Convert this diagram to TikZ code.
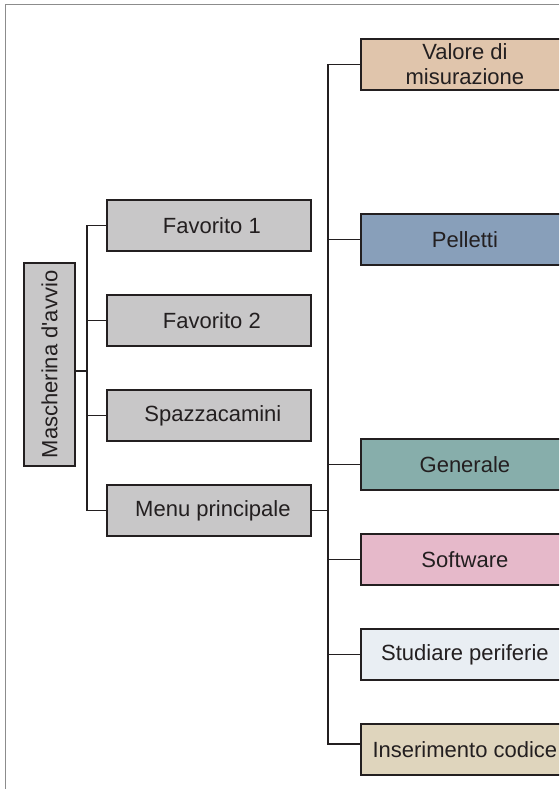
\documentclass[tikz,border=0pt]{standalone}
\usepackage{fontspec}
\setmainfont{Liberation Sans}
\definecolor{linec}{HTML}{231F20}
\definecolor{textc}{HTML}{231F20}
\definecolor{framec}{HTML}{8C8C8C}
\definecolor{greyf}{HTML}{C8C7C8}
\definecolor{valf}{HTML}{E0C5AC}
\definecolor{pelf}{HTML}{889FBA}
\definecolor{genf}{HTML}{87AEAB}
\definecolor{soff}{HTML}{E6B9CA}
\definecolor{stuf}{HTML}{E9EEF3}
\definecolor{insf}{HTML}{DFD5BD}
\begin{document}
\begin{tikzpicture}[x=1pt,y=-1pt,
  box/.style={draw=linec, line width=1.8pt, minimum width=204pt, minimum height=51pt,
    inner sep=0pt, font=\fontsize{22}{25}\selectfont, text=textc, align=center, anchor=north west},
  lbox/.style={box, fill=greyf},
  rbox/.style={box, minimum width=208pt},
  conn/.style={draw=linec, line width=1.7pt}]
\clip (0,0) rectangle (559,789);
\fill[white] (0,0) rectangle (559,789);
\draw[framec, line width=1pt] (5,789) -- (5,5) -- (559,5);

% left column
\node[box, fill=greyf, rotate=90, anchor=center, minimum width=203pt, minimum height=51pt] (mask) at (49.5,364.5) {Mascherina d\textquotesingle avvio};
\node[lbox] (fav1) at (106,199) {\hspace*{6pt}Favorito 1};
\node[lbox] (fav2) at (106,294) {\hspace*{6pt}Favorito 2};
\node[lbox] (spaz) at (106,389) {\hspace*{8pt}Spazzacamini};
\node[lbox] (menu) at (106,484) {\hspace*{8pt}Menu principale};

% right column
\node[rbox, fill=valf] (val) at (360,38) {Valore di\\misurazione};
\node[rbox, fill=pelf] (pel) at (360,213) {Pelletti};
\node[rbox, fill=genf] (gen) at (360,438) {Generale};
\node[rbox, fill=soff] (sof) at (360,533) {Software};
\node[rbox, fill=stuf] (stu) at (360,628) {Studiare periferie};
\node[rbox, fill=insf] (ins) at (360,723) {Inserimento codice};

% trunks
\coordinate (lt) at (87,0);
\coordinate (rt) at (328,0);
\coordinate (maskc) at ([yshift=-6.5pt]mask.south);
\coordinate (insc) at ([yshift=5.5pt]ins.west);

\draw[conn] (fav1.west) -- (fav1.west -| lt) -- (menu.west -| lt) -- (menu.west);
\draw[conn] (fav2.west) -- (fav2.west -| lt);
\draw[conn] (spaz.west) -- (spaz.west -| lt);
\draw[conn] (maskc) -- (maskc -| lt);

\draw[conn] (val.west) -- (val.west -| rt) -- (insc -| rt) -- (insc);
\draw[conn] (pel.west) -- (pel.west -| rt);
\draw[conn] (gen.west) -- (gen.west -| rt);
\draw[conn] (sof.west) -- (sof.west -| rt);
\draw[conn] (stu.west) -- (stu.west -| rt);
\draw[conn] (menu.east) -- (menu.east -| rt);
\end{tikzpicture}
\end{document}
